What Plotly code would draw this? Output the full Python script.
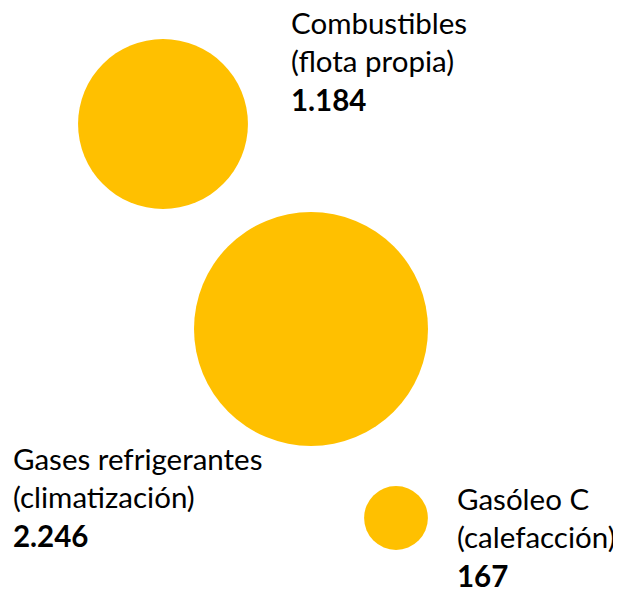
import plotly.graph_objects as go

# ---- data ----
categories = ["Combustibles<br>(flota propia)",
              "Gases refrigerantes<br>(climatización)",
              "Gasóleo C<br>(calefacción)"]
values = [1184, 2246, 167]
value_labels = ["1.184", "2.246", "167"]

# ---- layout (pixel-like coordinate space of the 621x589 view) ----
W, H = 621, 589
PAGE_MARGIN = 8  # default body margin of the html page
bubble_x = [163, 311, 396]
bubble_y = [124, 329, 518]
label_x = [289, 11, 455]
label_ymid = [61, 497, 537]
max_diam = 234
color = "#FFC000"
font_family = "Lato, 'Open Sans', sans-serif"
font_size = 29.5

fig = go.Figure()
fig.add_trace(go.Scatter(
    x=bubble_x, y=bubble_y, mode="markers",
    marker=dict(size=values, sizemode="area",
                sizeref=2 * max(values) / max_diam ** 2,
                color=color, line=dict(width=0), opacity=1),
    hoverinfo="skip", showlegend=False,
))

for cat, val, lx, ly in zip(categories, value_labels, label_x, label_ymid):
    fig.add_annotation(
        x=lx, y=ly, xref="x", yref="y", xanchor="left", yanchor="middle",
        text=f"{cat}<br><b>{val}</b>", showarrow=False, align="left",
        font=dict(family=font_family, size=font_size, color="#000000"),
    )

fig.update_xaxes(range=[PAGE_MARGIN, W], visible=False, fixedrange=True)
fig.update_yaxes(range=[H, PAGE_MARGIN], visible=False, fixedrange=True)
fig.update_layout(width=W - PAGE_MARGIN, height=H - PAGE_MARGIN,
                  margin=dict(l=0, r=0, t=0, b=0),
                  paper_bgcolor="white", plot_bgcolor="white")

fig.write_html("out.html")
